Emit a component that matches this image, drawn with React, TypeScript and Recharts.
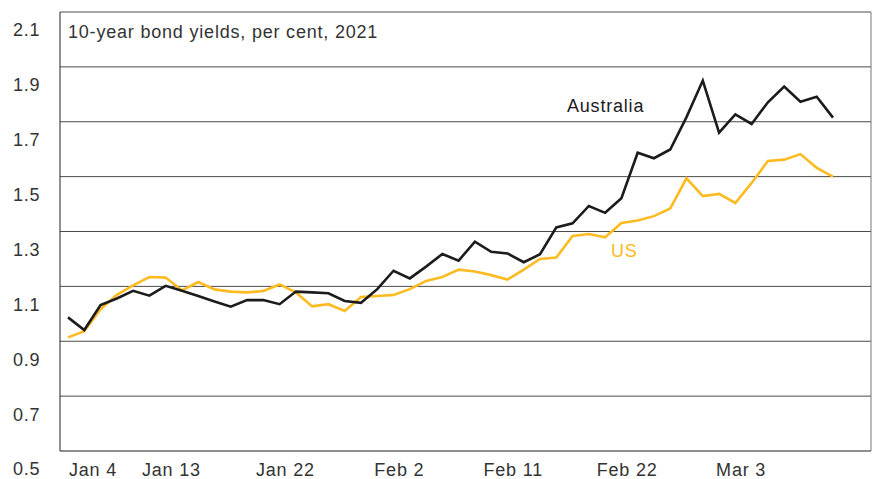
import { LineChart, Line, XAxis, YAxis, CartesianGrid } from 'recharts'

const dates = [
  'Jan 4', 'Jan 5', 'Jan 6', 'Jan 7', 'Jan 8', 'Jan 11', 'Jan 12', 'Jan 13', 'Jan 14', 'Jan 15',
  'Jan 18', 'Jan 19', 'Jan 20', 'Jan 21', 'Jan 22', 'Jan 25', 'Jan 26', 'Jan 27', 'Jan 28', 'Jan 29',
  'Feb 1', 'Feb 2', 'Feb 3', 'Feb 4', 'Feb 5', 'Feb 8', 'Feb 9', 'Feb 10', 'Feb 11', 'Feb 12',
  'Feb 15', 'Feb 16', 'Feb 17', 'Feb 18', 'Feb 19', 'Feb 22', 'Feb 23', 'Feb 24', 'Feb 25', 'Feb 26',
  'Mar 1', 'Mar 2', 'Mar 3', 'Mar 4', 'Mar 5', 'Mar 8', 'Mar 9', 'Mar 10',
]

const australia = [
  0.987, 0.941, 1.032, 1.056, 1.084, 1.066, 1.102, 1.084, 1.065, 1.045,
  1.026, 1.05, 1.05, 1.035, 1.081, 1.078, 1.075, 1.047, 1.04, 1.09,
  1.157, 1.129, 1.172, 1.218, 1.194, 1.263, 1.226, 1.22, 1.188, 1.217,
  1.315, 1.33, 1.393, 1.368, 1.421, 1.587, 1.567, 1.599, 1.717, 1.85,
  1.66, 1.727, 1.692, 1.771, 1.828, 1.773, 1.791, 1.715,
]

const us = [
  0.914, 0.937, 1.017, 1.069, 1.104, 1.134, 1.132, 1.085, 1.116, 1.089,
  1.081, 1.078, 1.083, 1.107, 1.078, 1.027, 1.035, 1.01, 1.061, 1.065,
  1.069, 1.09, 1.12, 1.134, 1.161, 1.154, 1.141, 1.125, 1.161, 1.2,
  1.205, 1.284, 1.291, 1.279, 1.331, 1.34, 1.356, 1.384, 1.494, 1.429,
  1.437, 1.404, 1.477, 1.557, 1.562, 1.582, 1.532, 1.5,
]

const dateTicks = ['Jan 4', 'Jan 13', 'Jan 22', 'Feb 2', 'Feb 11', 'Feb 22', 'Mar 3']
const yTicks = [0.5, 0.7, 0.9, 1.1, 1.3, 1.5, 1.7, 1.9, 2.1]

const data = dates.map((date, i) => ({ date, australia: australia[i], us: us[i] }))

const FONT = '"Liberation Sans", Arial, Helvetica, sans-serif'
const TEXT = '#333'
const BLACK = '#1c1c1c'
const YELLOW = '#FDBB22'

const textStyle = { fontFamily: FONT, fontSize: 18, letterSpacing: 0.8 }

function XTick({ x, y, payload }: any) {
  const first = payload.value === dateTicks[0]
  return (
    <text
      x={first ? x + 1 : x - 10.5}
      y={y + 19}
      dy="0.355em"
      textAnchor={first ? 'start' : 'middle'}
      fill={TEXT}
      style={textStyle}
    >
      {payload.value}
    </text>
  )
}

function YTick({ y, payload }: any) {
  return (
    <text x={13} y={y + 18} dy="0.355em" textAnchor="start" fill={TEXT} style={textStyle}>
      {payload.value.toFixed(1)}
    </text>
  )
}

export default function App() {
  return (
    <div style={{ position: 'absolute', left: 0, top: 0, width: 872, height: 479, background: '#fff' }}>
      <LineChart width={872} height={479} data={data} margin={{ top: 12, right: 0, bottom: 0, left: 0 }}>
        <CartesianGrid vertical={false} stroke="#4a4a4a" strokeWidth={1} />
        <XAxis
          dataKey="date"
          type="category"
          ticks={dateTicks}
          interval={0}
          padding={{ left: 8, right: 38 }}
          height={28}
          tickSize={0}
          tickMargin={0}
          tickLine={false}
          axisLine={{ stroke: '#777' }}
          tick={<XTick />}
        />
        <YAxis
          domain={[0.5, 2.1]}
          ticks={yTicks}
          allowDataOverflow
          width={60}
          tickSize={0}
          tickLine={false}
          axisLine={{ stroke: '#222' }}
          tick={<YTick />}
        />
        <YAxis yAxisId="frame" orientation="right" width={1} tick={false} tickLine={false} axisLine={{ stroke: '#777' }} />
        <Line
          type="linear"
          dataKey="us"
          stroke={YELLOW}
          strokeWidth={2.6}
          dot={false}
          isAnimationActive={false}
        />
        <Line
          type="linear"
          dataKey="australia"
          stroke={BLACK}
          strokeWidth={2.6}
          dot={false}
          isAnimationActive={false}
        />
      </LineChart>
      <svg width={872} height={479} style={{ position: 'absolute', left: 0, top: 0, pointerEvents: 'none' }}>
        <text x={68} y={38} fill={TEXT} style={textStyle}>
          10-year bond yields, per cent, 2021
        </text>
        <text x={567} y={111.5} fill={BLACK} style={textStyle}>
          Australia
        </text>
        <text x={611} y={257} fill={YELLOW} style={textStyle}>
          US
        </text>
      </svg>
    </div>
  )
}
